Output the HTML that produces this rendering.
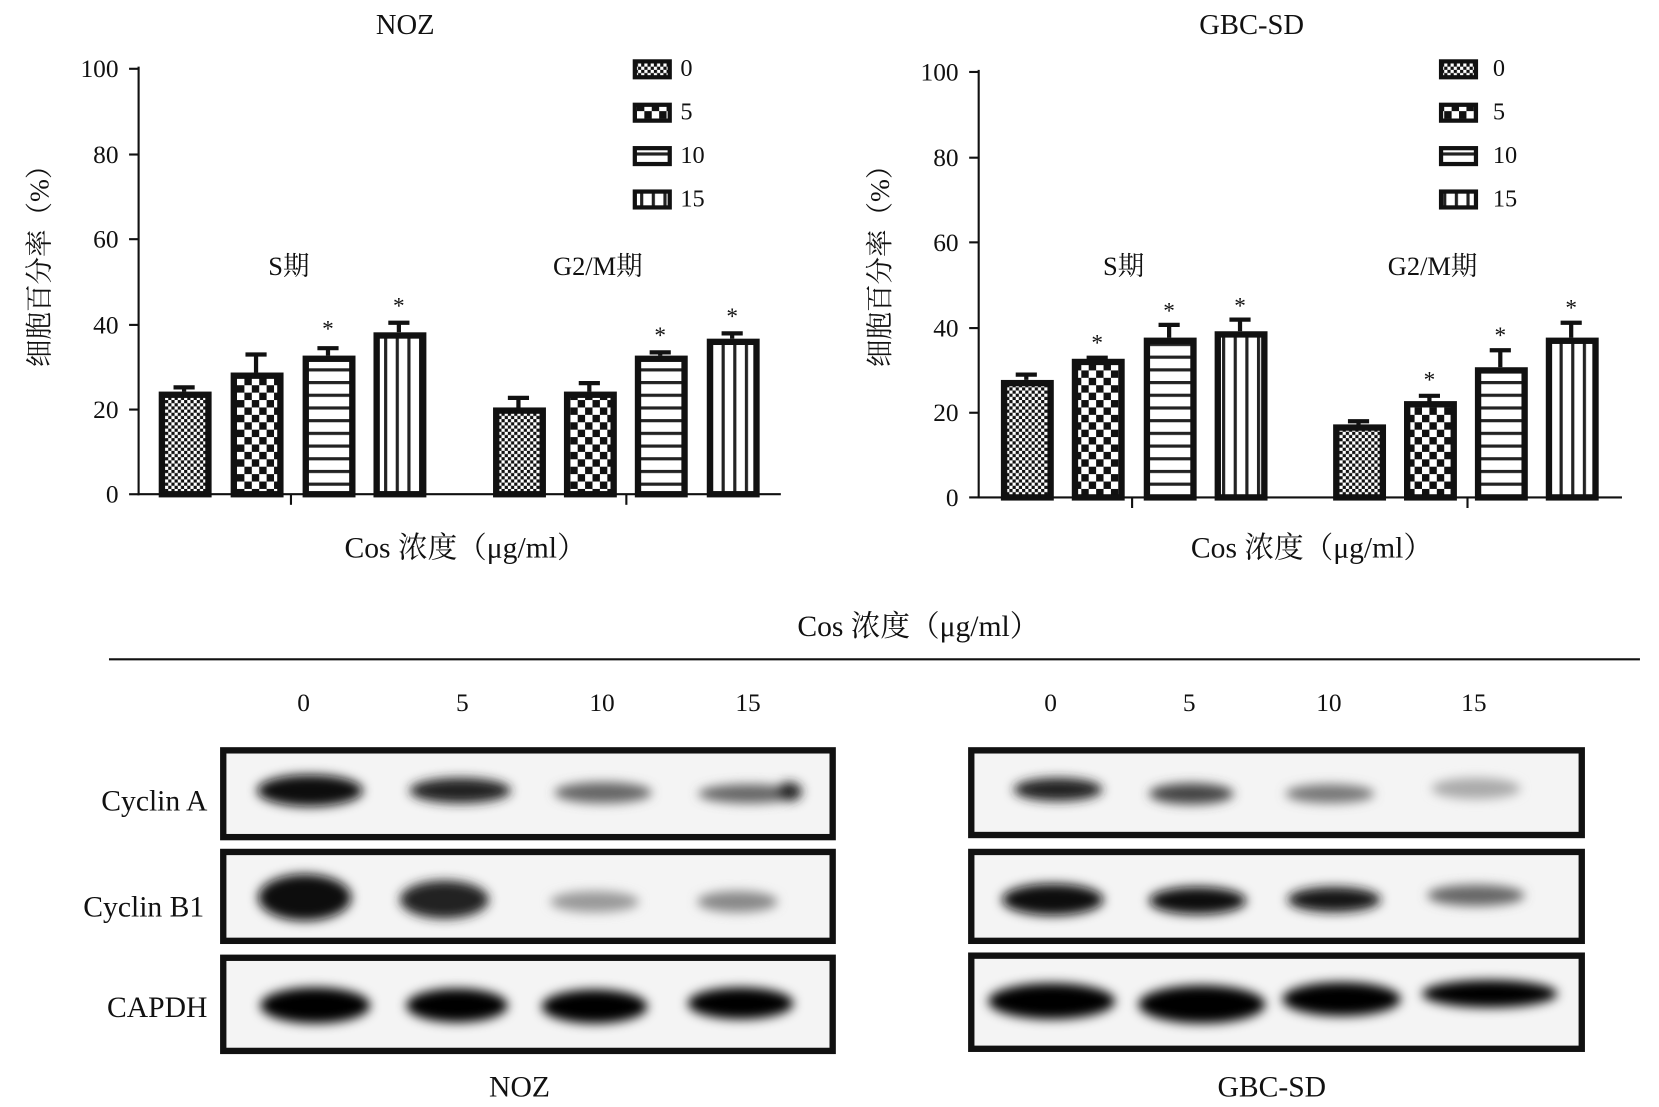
<!DOCTYPE html>
<html><head><meta charset="utf-8"><style>
html,body{margin:0;padding:0;background:#fff;}
svg{display:block;}
text{font-family:"Liberation Serif","Noto Serif CJK SC",serif;fill:#111;}
</style></head><body>
<svg width="1659" height="1107" viewBox="0 0 1568 1046" preserveAspectRatio="none" xmlns="http://www.w3.org/2000/svg">
<defs>
<pattern id="p0" width="6" height="6" patternUnits="userSpaceOnUse"><rect width="6" height="6" fill="#fff"/><rect width="3" height="3" fill="#111"/><rect x="3" y="3" width="3" height="3" fill="#111"/></pattern>
<pattern id="p1" width="14" height="14" patternUnits="userSpaceOnUse"><rect width="14" height="14" fill="#fff"/><rect width="7" height="7" fill="#111"/><rect x="7" y="7" width="7" height="7" fill="#111"/></pattern>
<pattern id="p2" width="12" height="12" patternUnits="userSpaceOnUse"><rect width="12" height="12" fill="#fff"/><rect y="0" width="12" height="3" fill="#222"/></pattern>
<pattern id="p3" width="11" height="12" patternUnits="userSpaceOnUse"><rect width="11" height="12" fill="#fff"/><rect x="0" width="3" height="12" fill="#222"/></pattern>
<filter id="bl" x="-20%" y="-50%" width="140%" height="200%"><feGaussianBlur stdDeviation="5"/></filter>
</defs>

<!-- LEFT CHART -->
<text x="383" y="32" font-size="27" text-anchor="middle">NOZ</text>
<g stroke="#111" stroke-width="2"><line x1="131" y1="63" x2="131" y2="468"/><line x1="130" y1="467" x2="738" y2="467"/>
<line x1="122" y1="65" x2="131" y2="65"/><line x1="122" y1="146" x2="131" y2="146"/><line x1="122" y1="226" x2="131" y2="226"/><line x1="122" y1="307" x2="131" y2="307"/><line x1="122" y1="387" x2="131" y2="387"/><line x1="122" y1="467" x2="131" y2="467"/>
<line x1="275" y1="467" x2="275" y2="477"/><line x1="592" y1="467" x2="592" y2="477"/></g>
<g font-size="24" text-anchor="end"><text x="112" y="73">100</text><text x="112" y="154">80</text><text x="112" y="234">60</text><text x="112" y="315">40</text><text x="112" y="395">20</text><text x="112" y="475">0</text></g>
<text transform="translate(46,245) rotate(-90)" font-size="26" text-anchor="middle">细胞百分率（%）</text>
<text x="273" y="260" font-size="25" text-anchor="middle">S期</text>
<text x="565" y="260" font-size="25" text-anchor="middle">G2/M期</text>
<g stroke="#111" stroke-width="6">
<rect x="153" y="373" width="44" height="94" fill="url(#p0)"/>
<rect x="221" y="355" width="44" height="112" fill="url(#p1)"/>
<rect x="289" y="339" width="44" height="128" fill="url(#p2)"/>
<rect x="356" y="317" width="44" height="150" fill="url(#p3)"/>
<rect x="469" y="388" width="44" height="79" fill="url(#p0)"/>
<rect x="536" y="373" width="44" height="94" fill="url(#p1)"/>
<rect x="603" y="339" width="44" height="128" fill="url(#p2)"/>
<rect x="671" y="323" width="44" height="144" fill="url(#p3)"/>
</g>
<g stroke="#111" stroke-width="4">
<path d="M174 370V366M164 366H184M242 352V335M232 335H252M310 336V329M300 329H320M377 314V305M367 305H387M490 385V376M480 376H500M557 370V362M547 362H567M624 336V333M614 333H634M692 320V315M682 315H702"/>
</g>
<g font-size="22" text-anchor="middle"><text x="310" y="318">*</text><text x="377" y="296">*</text><text x="624" y="324">*</text><text x="692" y="306">*</text></g>
<g stroke="#111" stroke-width="4">
<rect x="600" y="58" width="33" height="15" fill="url(#p0)"/><rect x="600" y="99" width="33" height="15" fill="url(#p1)"/><rect x="600" y="140" width="33" height="15" fill="url(#p2)"/><rect x="600" y="181" width="33" height="15" fill="url(#p3)"/></g>
<g font-size="23"><text x="643" y="72">0</text><text x="643" y="113">5</text><text x="643" y="154">10</text><text x="643" y="195">15</text></g>
<text x="440" y="527" font-size="28" text-anchor="middle">Cos 浓度（μg/ml）</text>

<!-- RIGHT CHART -->
<text x="1183" y="32" font-size="27" text-anchor="middle">GBC-SD</text>
<g stroke="#111" stroke-width="2"><line x1="925" y1="66" x2="925" y2="471"/><line x1="924" y1="470" x2="1533" y2="470"/>
<line x1="916" y1="68" x2="925" y2="68"/><line x1="916" y1="149" x2="925" y2="149"/><line x1="916" y1="229" x2="925" y2="229"/><line x1="916" y1="310" x2="925" y2="310"/><line x1="916" y1="390" x2="925" y2="390"/><line x1="916" y1="470" x2="925" y2="470"/>
<line x1="1070" y1="470" x2="1070" y2="480"/><line x1="1387" y1="470" x2="1387" y2="480"/></g>
<g font-size="24" text-anchor="end"><text x="906" y="76">100</text><text x="906" y="157">80</text><text x="906" y="237">60</text><text x="906" y="318">40</text><text x="906" y="398">20</text><text x="906" y="478">0</text></g>
<text transform="translate(840,245) rotate(-90)" font-size="26" text-anchor="middle">细胞百分率（%）</text>
<text x="1062" y="260" font-size="25" text-anchor="middle">S期</text>
<text x="1354" y="260" font-size="25" text-anchor="middle">G2/M期</text>
<g stroke="#111" stroke-width="6">
<rect x="949" y="362" width="44" height="108" fill="url(#p0)"/>
<rect x="1016" y="342" width="44" height="128" fill="url(#p1)"/>
<rect x="1084" y="322" width="44" height="148" fill="url(#p2)"/>
<rect x="1151" y="316" width="44" height="154" fill="url(#p3)"/>
<rect x="1263" y="404" width="44" height="66" fill="url(#p0)"/>
<rect x="1330" y="382" width="44" height="88" fill="url(#p1)"/>
<rect x="1397" y="350" width="44" height="120" fill="url(#p2)"/>
<rect x="1464" y="322" width="44" height="148" fill="url(#p3)"/>
</g>
<g stroke="#111" stroke-width="4">
<path d="M970 359V354M960 354H980M1037 339V338M1027 338H1047M1105 319V307M1095 307H1115M1172 313V302M1162 302H1182M1284 402V398M1274 398H1294M1351 380V374M1341 374H1361M1418 347V331M1408 331H1428M1485 319V305M1475 305H1495"/>
</g>
<g font-size="22" text-anchor="middle"><text x="1037" y="331">*</text><text x="1105" y="301">*</text><text x="1172" y="296">*</text><text x="1351" y="366">*</text><text x="1418" y="324">*</text><text x="1485" y="298">*</text></g>
<g stroke="#111" stroke-width="4">
<rect x="1362" y="58" width="33" height="15" fill="url(#p0)"/><rect x="1362" y="99" width="33" height="15" fill="url(#p1)"/><rect x="1362" y="140" width="33" height="15" fill="url(#p2)"/><rect x="1362" y="181" width="33" height="15" fill="url(#p3)"/></g>
<g font-size="23"><text x="1411" y="72">0</text><text x="1411" y="113">5</text><text x="1411" y="154">10</text><text x="1411" y="195">15</text></g>
<text x="1240" y="527" font-size="28" text-anchor="middle">Cos 浓度（μg/ml）</text>

<!-- BLOTS -->
<text x="868" y="601" font-size="28" text-anchor="middle">Cos 浓度（μg/ml）</text>
<line x1="103" y1="623" x2="1550" y2="623" stroke="#111" stroke-width="2"/>
<g font-size="24" text-anchor="middle"><text x="287" y="672">0</text><text x="437" y="672">5</text><text x="569" y="672">10</text><text x="707" y="672">15</text>
<text x="993" y="672">0</text><text x="1124" y="672">5</text><text x="1256" y="672">10</text><text x="1393" y="672">15</text></g>
<g font-size="28" text-anchor="end"><text x="196" y="766">Cyclin A</text><text x="193" y="866">Cyclin B1</text><text x="196" y="961">CAPDH</text></g>
<g fill="#f4f4f4" stroke="#111" stroke-width="6">
<rect x="211" y="709" width="576" height="82"/><rect x="211" y="805" width="576" height="84"/><rect x="211" y="905" width="576" height="88"/>
<rect x="918" y="709" width="577" height="80"/><rect x="918" y="805" width="577" height="84"/><rect x="918" y="903" width="577" height="88"/>
</g>
<g filter="url(#bl)">
<ellipse cx="293" cy="747" rx="50" ry="15" fill="#0a0a0a"/>
<ellipse cx="435" cy="747" rx="48" ry="12" fill="#222"/>
<ellipse cx="570" cy="749" rx="46" ry="10" fill="#666"/>
<ellipse cx="708" cy="750" rx="48" ry="9" fill="#666"/><ellipse cx="746" cy="748" rx="12" ry="9" fill="#222"/>
<ellipse cx="288" cy="848" rx="44" ry="22" fill="#111"/>
<ellipse cx="420" cy="850" rx="42" ry="18" fill="#222"/>
<ellipse cx="562" cy="852" rx="42" ry="10" fill="#999"/>
<ellipse cx="697" cy="852" rx="38" ry="10" fill="#888"/>
<ellipse cx="298" cy="950" rx="52" ry="17" fill="#050505"/>
<ellipse cx="432" cy="950" rx="48" ry="16" fill="#050505"/>
<ellipse cx="562" cy="951" rx="50" ry="16" fill="#050505"/>
<ellipse cx="700" cy="948" rx="50" ry="15" fill="#050505"/>
<ellipse cx="1000" cy="746" rx="42" ry="11" fill="#222"/>
<ellipse cx="1126" cy="750" rx="40" ry="10" fill="#444"/>
<ellipse cx="1257" cy="750" rx="42" ry="9" fill="#777"/>
<ellipse cx="1395" cy="745" rx="42" ry="10" fill="#aaa"/>
<ellipse cx="995" cy="850" rx="48" ry="15" fill="#080808"/>
<ellipse cx="1132" cy="851" rx="46" ry="13" fill="#111"/>
<ellipse cx="1261" cy="850" rx="44" ry="12" fill="#151515"/>
<ellipse cx="1395" cy="846" rx="46" ry="10" fill="#666"/>
<ellipse cx="994" cy="946" rx="60" ry="17" fill="#050505"/>
<ellipse cx="1136" cy="949" rx="60" ry="18" fill="#050505"/>
<ellipse cx="1268" cy="944" rx="56" ry="16" fill="#050505"/>
<ellipse cx="1408" cy="939" rx="64" ry="13" fill="#050505"/>
</g>
<text x="491" y="1036" font-size="28" text-anchor="middle">NOZ</text>
<text x="1202" y="1036" font-size="28" text-anchor="middle">GBC-SD</text>
</svg>
</body></html>
